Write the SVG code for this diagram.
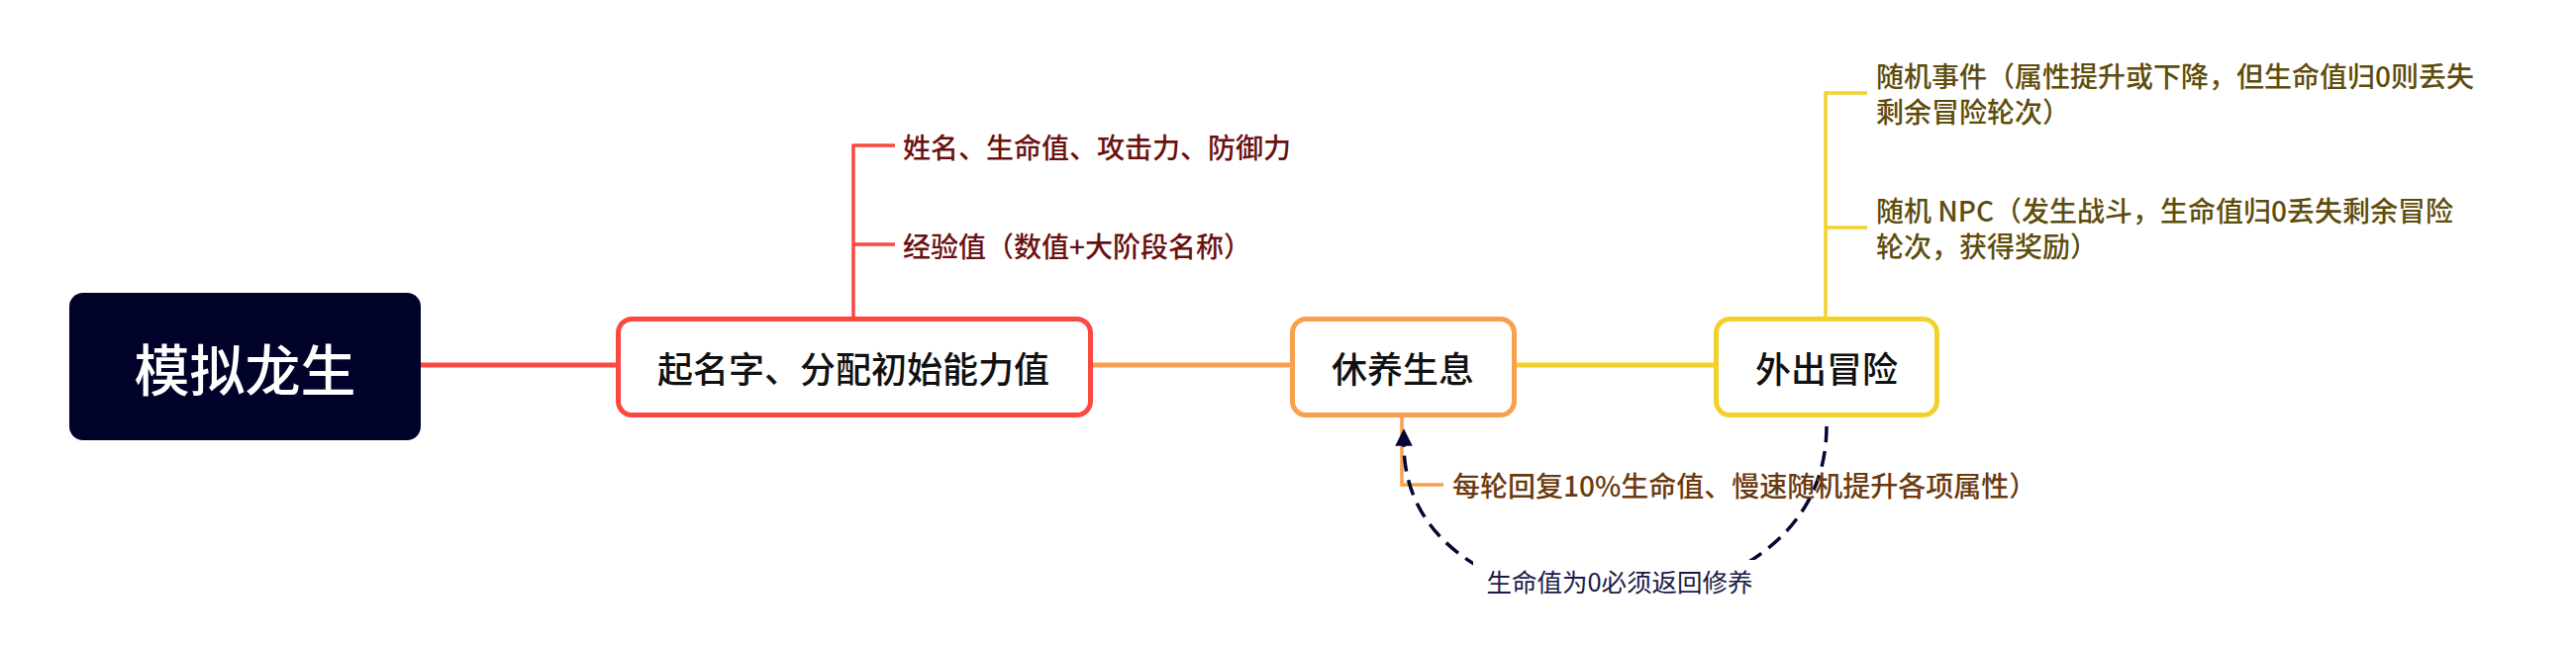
<svg xmlns="http://www.w3.org/2000/svg" width="2602" height="652" viewBox="0 0 2602 652">
<defs>
<style>
text{font-family:"Noto Sans CJK SC","Noto Sans",sans-serif;dominant-baseline:central}
.node{fill:#fff;stroke-width:5}
.nt{font-size:36px;fill:#111;text-anchor:middle;font-weight:500}
.st{font-size:28px;font-weight:500}
.red{stroke:#FC4840}
.ora{stroke:#F8A04C}
.yel{stroke:#F2D22A}
.line{fill:none;stroke-width:5}
.br{fill:none;stroke-width:3.5}
</style>
<marker id="arr" viewBox="0 0 10 10" refX="1" refY="5" markerWidth="5" markerHeight="5" markerUnits="strokeWidth" orient="auto">
<path d="M0,0 L10,5 L0,10 z" fill="#050535"/>
</marker>
</defs>
<rect width="2602" height="652" fill="#fff"/>
<g id="connectors">
<path class="line red" d="M425,369 H624"/>
<path class="line ora" d="M1101,369 H1304"/>
<path class="line yel" d="M1530,369 H1732"/>
<path class="br red" d="M862,322 V147 H904 M862,247 H904"/>
<path class="br ora" d="M1416,422 V490 H1458"/>
<path class="br yel" d="M1844,322 V94 H1886 M1844,230 H1886"/>
<path d="M1845,431 C1845,660 1418,660 1418,449" fill="none" stroke="#050535" stroke-width="3.5" stroke-dasharray="16 9" marker-end="url(#arr)"/>
<rect x="1488" y="566" width="296" height="50" fill="#fff"/>
<text x="1636" y="586" font-size="25.5" fill="#1A1A48" text-anchor="middle">生命值为0必须返回修养</text>
</g>
<g id="root">
<rect x="70" y="296" width="355" height="149" rx="14" fill="#00022A"/>
<text x="247.5" y="370" font-size="56" fill="#fff" text-anchor="middle" font-weight="500">模拟龙生</text>
</g>
<g id="node1">
<rect class="node red" x="624.5" y="322.5" width="477" height="97" rx="14"/>
<text class="nt" x="862" y="371">起名字、分配初始能力值</text>
</g>
<g id="node1a"><text class="st" x="912" y="148" fill="#6A1010">姓名、生命值、攻击力、防御力</text></g>
<g id="node1b"><text class="st" x="912" y="248" fill="#6A1010">经验值（数值+大阶段名称）</text></g>
<g id="node2">
<rect class="node ora" x="1305.5" y="322.5" width="224" height="97" rx="14"/>
<text class="nt" x="1417" y="371">休养生息</text>
</g>
<g id="node2a"><text class="st" x="1467" y="490" fill="#6B3A0E">每轮回复10%生命值、慢速随机提升各项属性）</text></g>
<g id="node3">
<rect class="node yel" x="1733.5" y="322.5" width="223" height="97" rx="14"/>
<text class="nt" x="1845" y="371">外出冒险</text>
</g>
<g id="node3a"><text class="st" fill="#5E4C0B"><tspan x="1895" y="76">随机事件（属性提升或下降，但生命值归0则丢失</tspan><tspan x="1895" y="112">剩余冒险轮次）</tspan></text></g>
<g id="node3b"><text class="st" fill="#5E4C0B"><tspan x="1895" y="212">随机 NPC（发生战斗，生命值归0丢失剩余冒险</tspan><tspan x="1895" y="248">轮次，获得奖励）</tspan></text></g>
</svg>
